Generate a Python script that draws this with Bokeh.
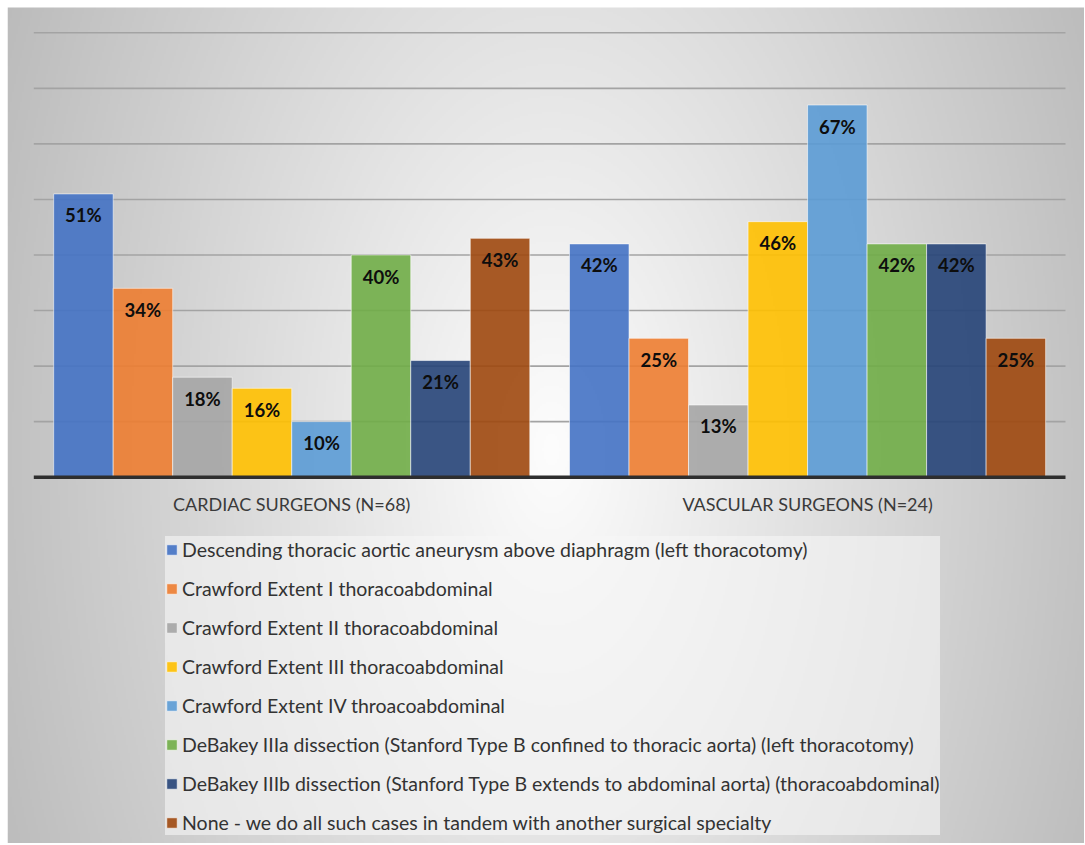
import numpy as np
from bokeh.plotting import figure
from bokeh.models import Range1d, Legend, LegendItem
from bokeh.core.properties import value
from bokeh.embed import file_html
from bokeh.resources import INLINE

# ---------------- data ----------------
groups = ["CARDIAC SURGEONS (N=68)", "VASCULAR SURGEONS (N=24)"]
series = [
    "Descending thoracic aortic aneurysm above diaphragm (left thoracotomy)",
    "Crawford Extent I thoracoabdominal",
    "Crawford Extent II thoracoabdominal",
    "Crawford Extent III thoracoabdominal",
    "Crawford Extent IV throacoabdominal",
    "DeBakey IIIa dissection (Stanford Type B confined to thoracic aorta) (left thoracotomy)",
    "DeBakey IIIb dissection (Stanford Type B extends to abdominal aorta) (thoracoabdominal)",
    "None - we do all such cases in tandem with another surgical specialty",
]
cardiac = [51, 34, 18, 16, 10, 40, 21, 43]
vascular = [42, 25, 13, 46, 67, 42, 42, 25]
grid_ticks = [10, 20, 30, 40, 50, 60, 70, 80]
colors = ["#4472C4", "#ED7D31", "#A5A5A5", "#FFC000", "#5B9BD5", "#70AD47", "#264478", "#9E480E"]

# ---------------- layout (screen px) ----------------
W, H = 1084, 843
OFF = 7                              # white strip left/top
FW, FH = W - OFF, H - OFF            # frame size
PLOT_L, PLOT_R = 26.3, 1058.0        # frame px of category axis ends
BASE_Y, TOP_Y = 469.7, 25.3          # frame px of 0% and 80%
y_top_val = 80.0

px_per_x = (PLOT_R - PLOT_L) / len(groups)
px_per_y = (BASE_Y - TOP_Y) / y_top_val
x0 = -PLOT_L / px_per_x
x1 = len(groups) + (FW - PLOT_R) / px_per_x
y1 = y_top_val + TOP_Y / px_per_y
y0 = -(FH - BASE_Y) / px_per_y

p = figure(width=W, height=H, x_range=Range1d(x0, x1), y_range=Range1d(y0, y1),
           x_axis_type=None, y_axis_type=None, output_backend="svg",
           toolbar_location=None, min_border=0, min_border_left=OFF, min_border_top=OFF,
           border_fill_color="white", outline_line_color=None)
p.xgrid.visible = False
p.ygrid.visible = False

# ---------------- radial gradient background ----------------
sc = 2
ih, iw = FH // sc + 1, FW // sc + 1
yy, xx = np.mgrid[0:ih, 0:iw].astype(float) * sc + OFF
cx, cy, rx, ry = 550.0, 450.0, 512.0, 900.0
d = np.sqrt(((xx - cx) / rx) ** 2 + ((yy - cy) / ry) ** 2)
g = np.clip(253 - 56 * d, 0, 255).astype(np.uint32)
img = (np.uint32(255) << 24) | (g << 16) | (g << 8) | g
img = np.flipud(img).astype(np.uint32)
p.image_rgba(image=[img], x=x0, y=y0, dw=(iw * sc) / px_per_x, dh=(ih * sc) / px_per_y)

# ---------------- gridlines ----------------
p.segment(x0=[0] * len(grid_ticks), x1=[len(groups)] * len(grid_ticks),
          y0=grid_ticks, y1=grid_ticks, line_color="#a3a3a3", line_width=1.6)

# ---------------- bars ----------------
n = len(series)
bw = 0.923 / n
centers = np.arange(len(groups)) + 0.5
renderers = []
for i in range(n):
    xs = centers + (i - (n - 1) / 2) * bw
    tops = [cardiac[i], vascular[i]]
    r = p.vbar(x=xs, top=tops, bottom=0, width=bw, fill_color=colors[i], fill_alpha=0.9,
               line_color="#ffffff", line_alpha=0.55, line_width=1)
    renderers.append(r)
    p.text(x=xs, y=tops, text=[f"{v}%" for v in tops], text_align="center",
           text_baseline="middle", y_offset=21.5, text_font=value("Lato"),
           text_font_style="bold", text_font_size="18.5px", text_color="#0d0d0d")

# baseline
p.segment(x0=[0], x1=[len(groups)], y0=[0], y1=[0], line_color="#2e2e2e", line_width=3.5)

# category labels
p.text(x=centers, y=[0, 0], text=groups, text_align="center", text_baseline="middle",
       y_offset=26.3, text_font=value("Lato"), text_font_size="18px", text_color="#3a3a3a")

# ---------------- legend ----------------
legend = Legend(items=[LegendItem(label=s, renderers=[r]) for s, r in zip(series, renderers)],
                location=(158, 8), orientation="vertical",
                label_text_font="Lato", label_text_font_size="19.5px", label_text_color="#333333",
                glyph_width=13, glyph_height=13, label_height=26, label_standoff=4,
                spacing=13, padding=8, margin=0,
                background_fill_color="#f6f6f6", background_fill_alpha=0.6,
                border_line_color=None)
p.add_layout(legend)

open("out.html", "w").write(file_html(p, INLINE))
